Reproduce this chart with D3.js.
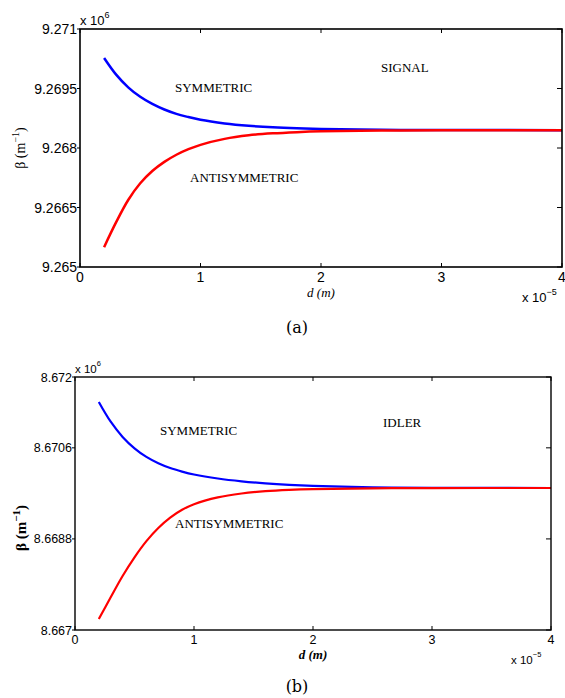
<!DOCTYPE html>
<html>
<head>
<meta charset="utf-8">
<script src="https://cdn.jsdelivr.net/npm/d3@7"></script>
<style>
  body { margin: 0; background: #fff; }
  text { fill: #000; }
  .tick-label { font-family: "Liberation Sans", Arial, sans-serif; }
  .serif { font-family: "Liberation Serif", "Times New Roman", serif; }
</style>
</head>
<body>
<svg id="chart" width="565" height="698"></svg>
<script>
// thickness d, in units of 1e-5 m
const dVals = [0.2, 0.3, 0.4, 0.5, 0.6, 0.7, 0.8, 0.9, 1.0, 1.2, 1.4, 1.6, 1.8, 2.0, 2.5, 3.0, 4.0];

// panel (a) SIGNAL, beta in units of 1e6 m^-1
const signalSym  = [9.27027, 9.26985, 9.26953, 9.26929, 9.26911, 9.26897, 9.26886, 9.26878, 9.26871,
                    9.26862, 9.26856, 9.26852, 9.268495, 9.26848, 9.26846, 9.268453, 9.26845];
const signalAnti = [9.26550, 9.26613, 9.26669, 9.26711, 9.26742, 9.26765, 9.26783, 9.26797, 9.26808,
                    9.26823, 9.26832, 9.26837, 9.26840, 9.26842, 9.26844, 9.268447, 9.26845];

// panel (b) IDLER
const idlerSym  = [8.671506, 8.671116, 8.670816, 8.670591, 8.670421, 8.670296, 8.670201, 8.670131, 8.670074,
                   8.669994, 8.669938, 8.669898, 8.669869, 8.669849, 8.669821, 8.669811, 8.669806];
const idlerAnti = [8.667217, 8.667646, 8.668066, 8.668436, 8.668756, 8.669016, 8.669221, 8.669376, 8.669486,
                   8.669621, 8.669698, 8.669743, 8.669769, 8.669784, 8.669800, 8.669805, 8.669806];

const xTicks = [0, 1, 2, 3, 4];
const signalTicks = [9.265, 9.2665, 9.268, 9.2695, 9.271];
const signalTickLabels = ['9.265', '9.2665', '9.268', '9.2695', '9.271'];
const idlerTicks = [8.667, 8.6688, 8.6706, 8.672];
const idlerTickLabels = ['8.667', '8.6688', '8.6706', '8.672'];

const svg = d3.select('#chart');

function drawPanel(p) {
    const x = d3.scaleLinear().domain([0, 4]).range([p.left, p.right]);
    const y = d3.scaleLinear().domain(p.yDomain).range([p.bottom, p.top]);
    const g = svg.append('g');

    // curves
    const line = d3.line()
        .x((d, i) => x(dVals[i]))
        .y(d => y(d))
        .curve(d3.curveCatmullRom.alpha(0.5));
    g.append('path').datum(p.sym)
        .attr('d', line).attr('fill', 'none')
        .attr('stroke', '#0000ff').attr('stroke-width', p.lw);
    g.append('path').datum(p.anti)
        .attr('d', line).attr('fill', 'none')
        .attr('stroke', '#ff0000').attr('stroke-width', p.lw);

    // box
    g.append('rect')
        .attr('x', p.left).attr('y', p.top)
        .attr('width', p.right - p.left).attr('height', p.bottom - p.top)
        .attr('fill', 'none').attr('stroke', '#000').attr('stroke-width', p.bw);

    // x ticks (inside, bottom and top)
    xTicks.forEach(t => {
        g.append('line').attr('x1', x(t)).attr('x2', x(t))
            .attr('y1', p.bottom).attr('y2', p.bottom - 4)
            .attr('stroke', '#000').attr('stroke-width', 1);
        g.append('line').attr('x1', x(t)).attr('x2', x(t))
            .attr('y1', p.top).attr('y2', p.top + 4)
            .attr('stroke', '#000').attr('stroke-width', 1);
        g.append('text').attr('class', 'tick-label')
            .attr('x', x(t)).attr('y', p.bottom + p.tickFs + 1)
            .attr('text-anchor', 'middle')
            .style('font-size', p.tickFs + 'px')
            .text(t);
    });

    // y ticks
    p.yTicks.forEach((t, i) => {
        g.append('line').attr('x1', p.left - 3).attr('x2', p.left)
            .attr('y1', y(t)).attr('y2', y(t))
            .attr('stroke', '#000').attr('stroke-width', 1);
        g.append('line').attr('x1', p.right).attr('x2', p.right - 5)
            .attr('y1', y(t)).attr('y2', y(t))
            .attr('stroke', '#000').attr('stroke-width', 1);
        g.append('text').attr('class', 'tick-label')
            .attr('x', p.left - 3).attr('y', y(t) + p.tickFs * 0.36)
            .attr('text-anchor', 'end')
            .style('font-size', p.tickFs + 'px')
            .text(p.yTickLabels[i]);
    });

    // exponent labels
    const e6 = g.append('text').attr('class', 'tick-label')
        .attr('x', p.left).attr('y', p.top - 4)
        .style('font-size', (p.tickFs - 1) + 'px');
    e6.append('tspan').text('x 10');
    e6.append('tspan').attr('dy', -7).style('font-size', (p.tickFs - 5) + 'px').text('6');

    const e5 = g.append('text').attr('class', 'tick-label')
        .attr('x', p.right - 40).attr('y', p.bottom + p.tickFs + 21)
        .style('font-size', (p.tickFs - 1) + 'px');
    e5.append('tspan').text('x 10');
    e5.append('tspan').attr('dy', -7).style('font-size', (p.tickFs - 5) + 'px').text('\u22125');

    // x label
    const xl = g.append('text').attr('class', 'serif')
        .attr('x', x(2)).attr('y', p.bottom + p.tickFs + 16)
        .attr('text-anchor', 'middle')
        .style('font-size', '13px').style('font-style', 'italic')
        .style('font-weight', p.bold ? 'bold' : 'normal');
    xl.append('tspan').text('d (m)');

    // y label
    const yl = g.append('text').attr('class', 'serif')
        .attr('transform', 'translate(' + p.yLabelX + ',' + p.yLabelY + ') rotate(-90)')
        .attr('text-anchor', 'middle')
        .style('font-size', p.yLabelFs + 'px')
        .style('font-weight', p.bold ? 'bold' : 'normal');
    yl.append('tspan').text('\u03b2 (m');
    yl.append('tspan').attr('dy', -6).style('font-size', (p.yLabelFs - 4) + 'px').text('\u22121');
    yl.append('tspan').attr('dy', 6).text(')');

    // annotations
    p.notes.forEach(n => {
        g.append('text').attr('class', 'serif')
            .attr('x', n.x).attr('y', n.y)
            .style('font-size', '13px')
            .text(n.t);
    });

    // caption
    g.append('text')
        .attr('x', p.captionX).attr('y', p.captionY)
        .attr('text-anchor', 'middle')
        .style('font-family', '"DejaVu Serif", "Liberation Serif", serif')
        .style('font-size', '16px')
        .text(p.caption);
}

drawPanel({
    left: 80, right: 562, top: 29, bottom: 267,
    yDomain: [9.265, 9.271], yTicks: signalTicks, yTickLabels: signalTickLabels,
    sym: signalSym, anti: signalAnti,
    lw: 2.5, bw: 1.6, tickFs: 14, bold: false,
    yLabelX: 25, yLabelY: 148, yLabelFs: 14,
    notes: [
        {x: 175, y: 92, t: 'SYMMETRIC'},
        {x: 381, y: 72, t: 'SIGNAL'},
        {x: 190, y: 182, t: 'ANTISYMMETRIC'}
    ],
    caption: '(a)', captionX: 297, captionY: 333
});

drawPanel({
    left: 75, right: 551, top: 377, bottom: 630,
    yDomain: [8.667, 8.672], yTicks: idlerTicks, yTickLabels: idlerTickLabels,
    sym: idlerSym, anti: idlerAnti,
    lw: 2.2, bw: 1.4, tickFs: 12.5, bold: true,
    yLabelX: 26, yLabelY: 528, yLabelFs: 15,
    notes: [
        {x: 160, y: 435, t: 'SYMMETRIC'},
        {x: 383, y: 427, t: 'IDLER'},
        {x: 175, y: 528, t: 'ANTISYMMETRIC'}
    ],
    caption: '(b)', captionX: 297, captionY: 692
});
</script>
</body>
</html>
